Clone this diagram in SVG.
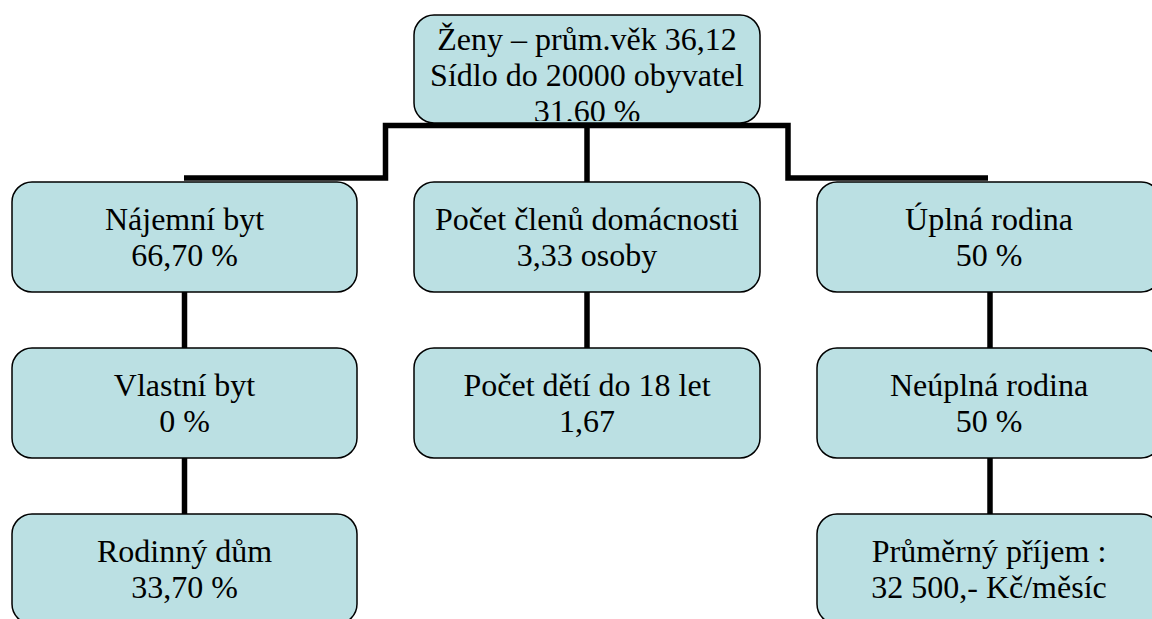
<svg xmlns="http://www.w3.org/2000/svg" width="1152" height="619" viewBox="0 0 1152 619">
<style>
.box{fill:#BBE0E3;stroke:#000;stroke-width:1.5}
.t{font-size:32px;fill:#000;text-anchor:middle}
.c{fill:none;stroke:#000;stroke-width:5.5}
</style>
<defs>
<clipPath id="clipTop"><rect x="414" y="15" width="346" height="106" rx="20"/></clipPath>
</defs>
<rect width="1152" height="619" fill="#fff"/>
<g id="connectors">
<path class="c" d="M184,178 H385.5 V125.5 H788 V178 H988"/>
<path class="c" d="M587,125.5 V182"/>
<path class="c" d="M184.5,292 V348"/>
<path class="c" d="M184.5,458 V514"/>
<path class="c" d="M587,292 V348"/>
<path class="c" d="M990,292 V348"/>
<path class="c" d="M990,458 V514"/>
</g>
<g id="nodes" font-family="Liberation Serif, Times New Roman, serif">
<g id="n-top">
<rect class="box" x="414" y="15" width="346" height="108" rx="20"/>
<g clip-path="url(#clipTop)">
<text class="t" x="587" y="50">Ženy – prům.věk 36,12</text>
<text class="t" x="587" y="86">Sídlo do 20000 obyvatel</text>
<text class="t" x="587" y="122">31,60 %</text>
</g>
</g>
<g id="n-najemni">
<rect class="box" x="12" y="182" width="345" height="110" rx="20"/>
<text class="t" x="184.5" y="230">Nájemní byt</text>
<text class="t" x="184.5" y="266">66,70 %</text>
</g>
<g id="n-vlastni">
<rect class="box" x="12" y="348" width="345" height="110" rx="20"/>
<text class="t" x="184.5" y="396">Vlastní byt</text>
<text class="t" x="184.5" y="432">0 %</text>
</g>
<g id="n-rodinny">
<rect class="box" x="12" y="514" width="345" height="110" rx="20"/>
<text class="t" x="184.5" y="562">Rodinný dům</text>
<text class="t" x="184.5" y="598">33,70 %</text>
</g>
<g id="n-clenu">
<rect class="box" x="414" y="182" width="346" height="110" rx="20"/>
<text class="t" x="587" y="230">Počet členů domácnosti</text>
<text class="t" x="587" y="266">3,33 osoby</text>
</g>
<g id="n-deti">
<rect class="box" x="414" y="348" width="346" height="110" rx="20"/>
<text class="t" x="587" y="396">Počet dětí do 18 let</text>
<text class="t" x="587" y="432">1,67</text>
</g>
<g id="n-uplna">
<rect class="box" x="817" y="182" width="344" height="110" rx="20"/>
<text class="t" x="989" y="230">Úplná rodina</text>
<text class="t" x="989" y="266">50 %</text>
</g>
<g id="n-neuplna">
<rect class="box" x="817" y="348" width="344" height="110" rx="20"/>
<text class="t" x="989" y="396">Neúplná rodina</text>
<text class="t" x="989" y="432">50 %</text>
</g>
<g id="n-prijem">
<rect class="box" x="817" y="514" width="344" height="110" rx="20"/>
<text class="t" x="989" y="562">Průměrný příjem :</text>
<text class="t" x="989" y="598">32 500,- Kč/měsíc</text>
</g>
</g>
</svg>
